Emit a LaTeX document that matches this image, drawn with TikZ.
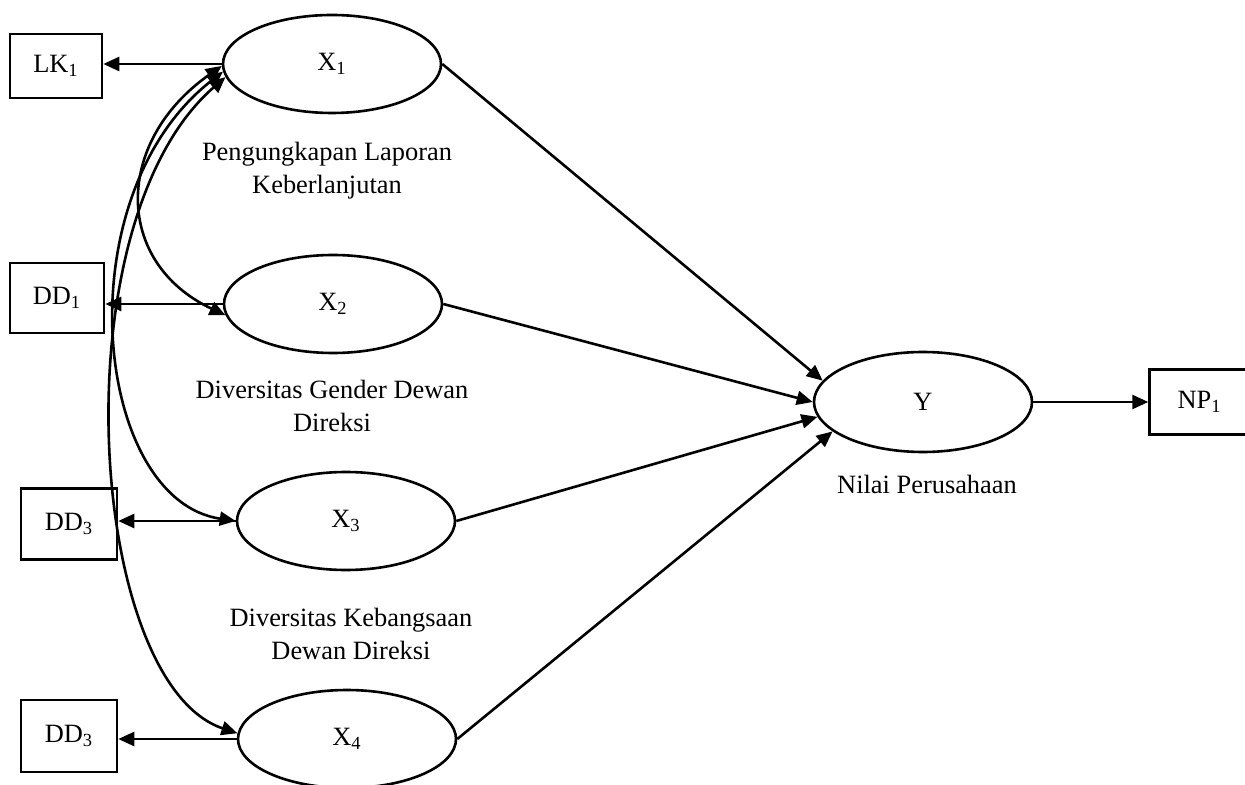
\documentclass[tikz,border=0pt]{standalone}
\usepackage{fontspec}
\setmainfont{Liberation Serif}
\usetikzlibrary{positioning, arrows.meta, shapes.geometric}

\begin{document}
\begin{tikzpicture}[
    x=0.5pt, y=-0.5pt,
    font=\fontsize{13.2}{16.5}\selectfont,
    ind/.style={draw, line width=1.3pt, minimum width=47pt, minimum height=34pt, inner sep=0pt},
    lat/.style={draw, ellipse, line width=1.3pt, minimum width=109pt, minimum height=49pt, inner sep=0pt},
    lbl/.style={align=center, inner sep=0pt},
    arr/.style={-{Triangle[length=8pt, width=7pt]}, line width=1.3pt},
    cov/.style={{Triangle[length=8pt, width=7pt]}-{Triangle[length=8pt, width=7pt]}, line width=1.3pt},
]
\useasboundingbox (0,0) rectangle (1245,785);

% === Indicators ===
\node[ind, minimum width=46pt, minimum height=32pt] (LK1) at (56,66) {LK\textsubscript{1}};
\node[ind, minimum height=35pt] (DD1) at (57,298) {DD\textsubscript{1}};
\node[ind, minimum width=48pt, minimum height=35.5pt] (DD3a) at (69,524) {DD\textsubscript{3}};
\node[ind, minimum width=48pt, minimum height=36pt] (DD3b) at (69,736) {DD\textsubscript{3}};

% === Latent variables ===
\node[lat] (X1) at (332,64) {X\textsubscript{1}};
\node[lat] (X2) at (333,304) {X\textsubscript{2}};
\node[lat] (X3) at (346,521) {X\textsubscript{3}};
\node[lat] (X4) at (347,739) {X\textsubscript{4}};
\node[lat, minimum height=50pt] (Y) at (923,402) {Y};
\node[ind, minimum width=50pt, minimum height=32.5pt, right=57.5pt of Y] (NP1) {NP\textsubscript{1}};

% === Labels ===
\node[lbl] (lblX1) at (327,171) {Pengungkapan Laporan\\Keberlanjutan};
\node[lbl] (lblX2) at (332,406) {Diversitas Gender Dewan\\Direksi};
\node[lbl] (lblX3) at (351,634) {Diversitas Kebangsaan\\Dewan Direksi};
\node[lbl] (lblY) at (927,484) {Nilai Perusahaan};

% Arrows: latent -> indicator
\draw[arr] (X1.west) -- (X1.west -| LK1.east);
\draw[arr] (X2.west) -- (X2.west -| DD1.east);
\draw[arr] (X3.west) -- (X3.west -| DD3a.east);
\draw[arr] (X4.west) -- (X4.west -| DD3b.east);

% Arrows: X -> Y
\draw[arr] (X1.east) -- (Y.168);
\draw[arr] (X2.east) -- (Y.west);
\draw[arr] (X3.east) -- (Y.188);
\draw[arr] (X4.east) -- (Y.198);
\draw[arr] (Y.east) -- (NP1.west);

% Covariance curves
\draw[cov] (X1.181) .. controls +(-108,76) and +(-112,-53) .. (X2.186);
\draw[cov] (X1.184) .. controls +(-160,126) and +(-142,-21) .. (X3.west);
\draw[cov] (X1.187) .. controls +(-168,146) and +(-150,-50) .. (X4.177);

\end{tikzpicture}
\end{document}
